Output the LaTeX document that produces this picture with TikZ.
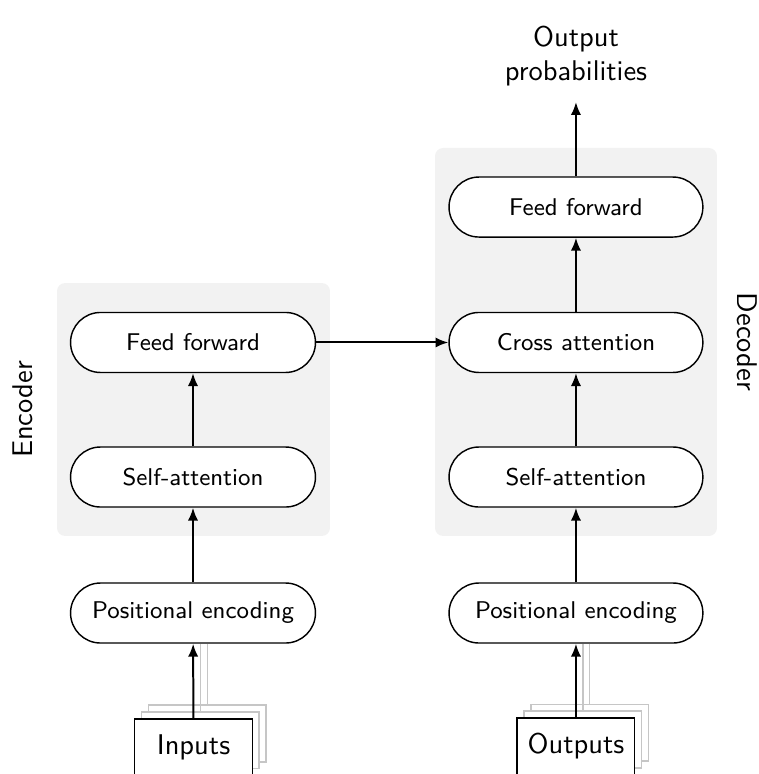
\documentclass[tikz,border=0pt]{standalone}
\usetikzlibrary{arrows.meta}
\renewcommand{\familydefault}{\sfdefault}

\tikzset{
    block/.style={rectangle, draw, fill=white, line width=0.5pt,
        rounded corners=0.37cm, minimum height=0.74cm,
        font=\fontsize{8.5}{10}\selectfont},
    encblock/.style={block, minimum width=3.02cm},
    decblock/.style={block, minimum width=3.13cm},
    stackbox/.style={draw, fill=white, line width=0.5pt,
        minimum width=1.45cm, minimum height=0.70cm},
    ghostbox/.style={stackbox, draw=gray!45},
    ghostline/.style={draw=gray!45, line width=0.5pt},
    arr/.style={-{Latex[length=4.5pt,width=3.6pt]}, line width=0.7pt},
    panel/.style={fill=black!5, rounded corners=0.1cm}
}

\begin{document}
\begin{tikzpicture}

    \useasboundingbox (0,0) rectangle (9.359,9.544);

    % Grey panels behind the encoder and the decoder
    \fill[panel] (0.703,2.935) rectangle (4.069,6.054);
    \fill[panel] (5.364,2.935) rectangle (8.841,7.719);

    % Encoder blocks
    \node[encblock] (encpe) at (2.380,1.985) {Positional encoding};
    \node[encblock] (encsa) at (2.380,3.662) {Self-attention};
    \node[encblock] (encff) at (2.380,5.321) {Feed forward};

    % Decoder blocks
    \node[decblock] (decpe) at (7.102,1.985) {Positional encoding};
    \node[decblock] (decsa) at (7.102,3.662) {Self-attention};
    \node[decblock] (decca) at (7.102,5.321) {Cross attention};
    \node[decblock] (decff) at (7.102,6.991) {Feed forward};

    % Stacked inputs
    \node[ghostbox] (in2) at (2.556,0.500) {};
    \node[ghostbox] (in1) at (2.471,0.415) {};
    \node[stackbox] (inputs) at (2.386,0.330) {Inputs};

    % Stacked outputs
    \node[ghostbox] (out2) at (7.272,0.510) {};
    \node[ghostbox] (out1) at (7.187,0.425) {};
    \node[stackbox] (outputs) at (7.102,0.340) {Outputs};

    % Output label
    \node[align=center, anchor=south, inner sep=5.5pt] (outprob) at (7.102,8.285)
        {Output\\probabilities};

    % Side labels
    \node[rotate=90] (enclabel) at (0.284,4.494) {Encoder};
    \node[rotate=-90] (declabel) at (9.220,5.327) {Decoder};

    % Grey lines from the back copies
    \draw[ghostline] (in2.north) -- (in2.north |- encpe.south);
    \draw[ghostline] (in1.north) -- (in1.north |- encpe.south);
    \draw[ghostline] (out2.north) -- (out2.north |- decpe.south);
    \draw[ghostline] (out1.north) -- (out1.north |- decpe.south);

    % Encoder arrows
    \draw[arr] (inputs) -- (encpe);
    \draw[arr] (encpe) -- (encsa);
    \draw[arr] (encsa) -- (encff);

    % Encoder to decoder
    \draw[arr] (encff) -- (decca);

    % Decoder arrows
    \draw[arr] (outputs) -- (decpe);
    \draw[arr] (decpe) -- (decsa);
    \draw[arr] (decsa) -- (decca);
    \draw[arr] (decca) -- (decff);
    \draw[arr] (decff) -- (outprob);

\end{tikzpicture}
\end{document}
